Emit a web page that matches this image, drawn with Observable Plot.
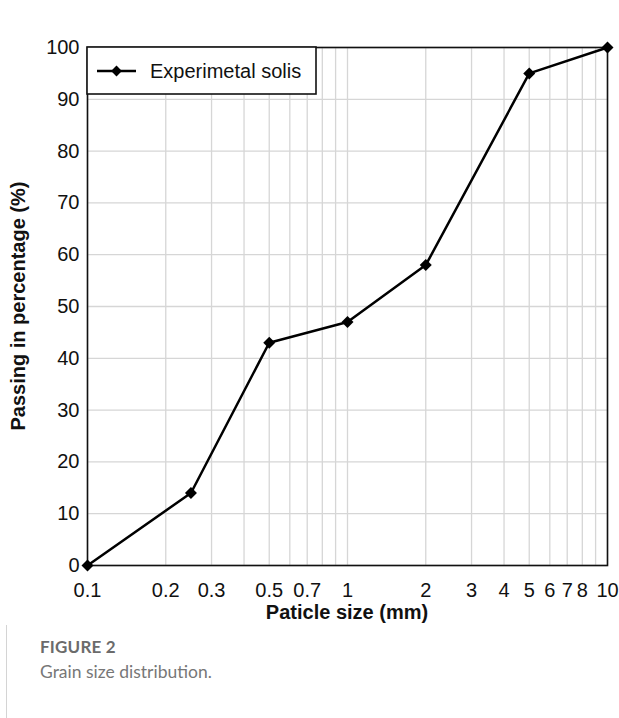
<!DOCTYPE html>
<html>
<head>
<meta charset="utf-8">
<script src="https://cdn.jsdelivr.net/npm/d3@7"></script>
<script src="https://cdn.jsdelivr.net/npm/@observablehq/plot@0.6"></script>
<style>
  html, body { margin: 0; padding: 0; background: #fff; }
  body { position: relative; width: 619px; height: 718px; overflow: hidden; }
  #chart { position: absolute; left: 0; top: 0; }
  #chart svg text { font-family: "Liberation Sans", Arial, sans-serif; }
  .hline { position: absolute; left: 6px; top: 5px; width: 613px; height: 0; border-top: 1px solid #d4d4d4; }
  .vline { position: absolute; left: 6px; top: 5px; width: 0; height: 713px; border-left: 1px solid #d4d4d4; }
  .fig { position: absolute; left: 40px; top: 636px; font-family: Lato, "Open Sans", sans-serif; font-size: 17px; font-weight: 700; color: #6b6b6b; letter-spacing: 0.2px; }
  .cap { position: absolute; left: 40px; top: 661px; font-family: Lato, "Open Sans", sans-serif; font-size: 17.5px; color: #777; }
</style>
</head>
<body>
<div class="hline"></div>
<div class="vline"></div>
<div id="chart"></div>
<div class="fig">FIGURE 2</div>
<div class="cap">Grain size distribution.</div>
<script>
const sizes = [0.1, 0.25, 0.5, 1, 2, 5, 10];
const passing = [0, 14, 43, 47, 58, 95, 100];
const seriesName = "Experimetal solis";
const xTickValues = [0.1, 0.2, 0.3, 0.5, 0.7, 1, 2, 3, 4, 5, 6, 7, 8, 10];
const xGridValues = [0.1,0.2,0.3,0.4,0.5,0.6,0.7,0.8,0.9,1,2,3,4,5,6,7,8,9,10];
const yTickValues = [0,10,20,30,40,50,60,70,80,90,100];

const data = sizes.map((s, i) => ({x: s, y: passing[i]}));

const W = 619, H = 625;
const mL = 87, mR = 12, mT = 47, mB = H - 565;
const FONT = "Liberation Sans, Arial, sans-serif";

const plot = Plot.plot({
  width: W,
  height: H,
  marginLeft: mL,
  marginRight: mR,
  marginTop: mT,
  marginBottom: mB,
  style: {fontFamily: FONT, fontSize: "20px", color: "#111", background: "white"},
  x: {type: "log", domain: [0.1, 10], range: [mL, W - mR], axis: null},
  y: {domain: [0, 100]},
  marks: [
    Plot.ruleX(xGridValues, {stroke: "#d6d6d6", strokeWidth: 1.3}),
    Plot.ruleY(yTickValues, {stroke: "#d6d6d6", strokeWidth: 1.3}),
    Plot.text(xTickValues, {x: d => d, frameAnchor: "bottom", lineAnchor: "middle", dy: 25, text: d => String(d), fontSize: 20, fill: "#111"}),
    Plot.axisY({ticks: yTickValues, tickSize: 0, tickPadding: 8, label: null, fontSize: 20}),
    Plot.frame({stroke: "#111", strokeWidth: 1.6}),
    Plot.line(data, {x: "x", y: "y", stroke: "#000", strokeWidth: 2.5}),
    Plot.dot(data, {x: "x", y: "y", symbol: "diamond2", r: 5.4, fill: "#000", stroke: "none"})
  ]
});

document.getElementById("chart").appendChild(plot);

const svg = d3.select(plot);
// axis titles
svg.append("text")
  .attr("x", (mL + (W - mR)) / 2).attr("y", 619)
  .attr("text-anchor", "middle")
  .style("font-family", FONT)
  .style("font-size", "20px").style("font-weight", "bold").attr("fill", "#111")
  .text("Paticle size (mm)");
svg.append("text")
  .attr("transform", `translate(25, ${(mT + 565) / 2}) rotate(-90)`)
  .attr("text-anchor", "middle")
  .style("font-family", FONT)
  .style("font-size", "20px").style("font-weight", "bold").attr("fill", "#111")
  .text("Passing in percentage (%)");

// legend box
const lg = svg.append("g");
lg.append("rect").attr("x", mL).attr("y", mT).attr("width", 229).attr("height", 47)
  .attr("fill", "white").attr("stroke", "#111").attr("stroke-width", 1.6);
lg.append("line").attr("x1", 97).attr("x2", 136).attr("y1", 71).attr("y2", 71)
  .attr("stroke", "#000").attr("stroke-width", 2.5);
lg.append("path").attr("d", d3.symbol(d3.symbolDiamond2, 75)()).attr("transform", "translate(116.5,71)").attr("fill", "#000");
lg.append("text").attr("x", 150).attr("y", 71).attr("dy", "0.35em")
  .attr("text-anchor", "start")
  .style("font-family", FONT).style("font-size", "20px").attr("fill", "#111")
  .text(seriesName);
</script>
</body>
</html>
